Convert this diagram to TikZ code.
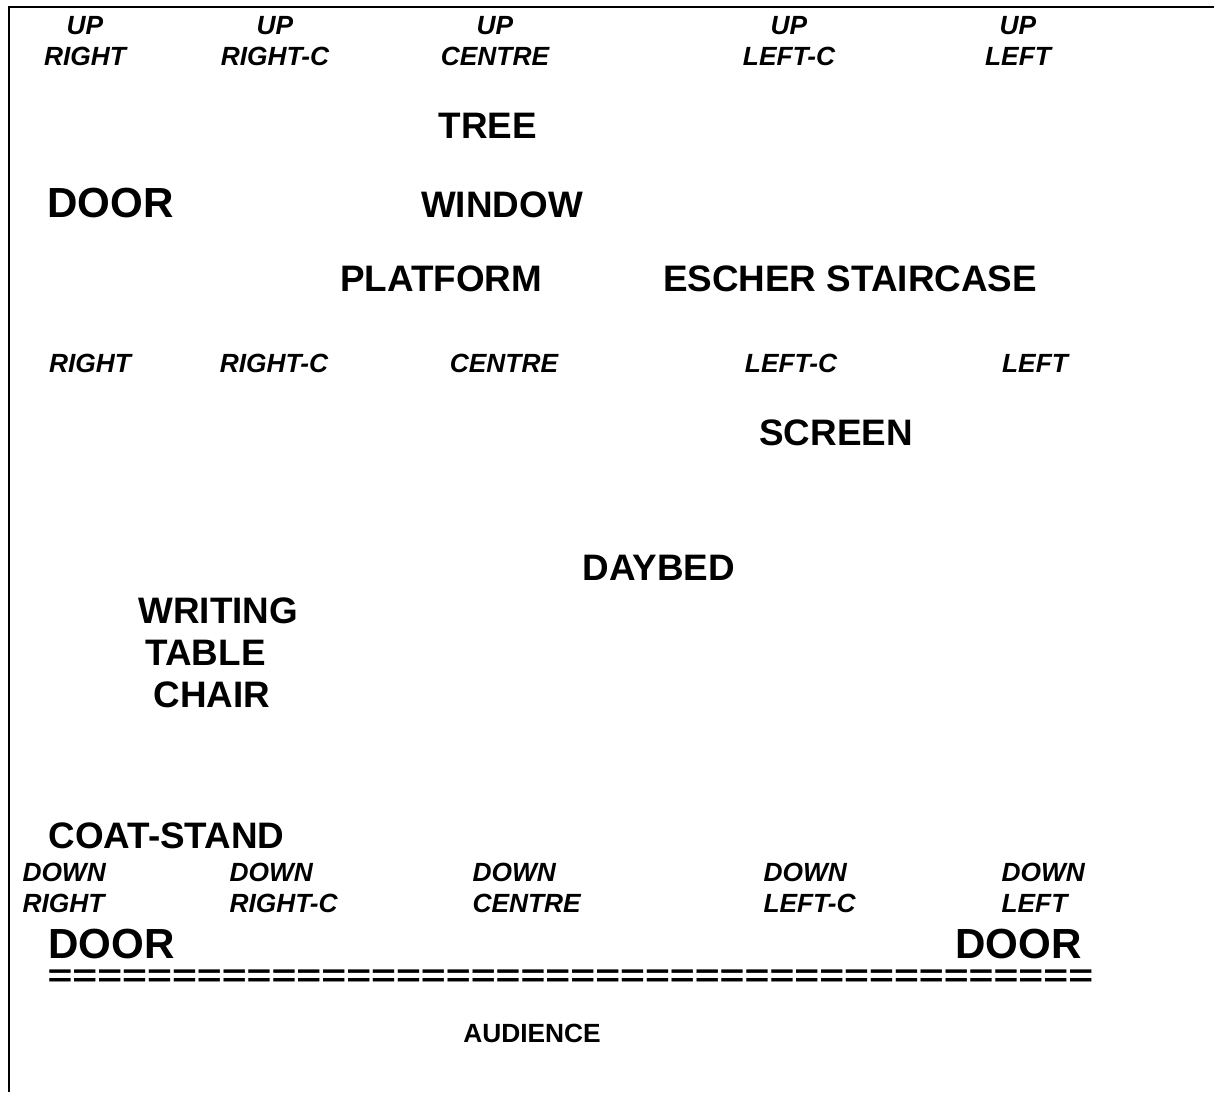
\documentclass[tikz,border=0pt]{standalone}
\usepackage{fontspec}
\setmainfont{Liberation Sans}
\usepackage{tikz}

\begin{document}
\begin{tikzpicture}[
  x=0.38pt, y=-0.38pt,
  spot/.style    = {inner sep=0pt, font=\fontsize{10}{11.5}\selectfont\bfseries\itshape},
  setpiece/.style = {inner sep=0pt, anchor=base, font=\fontsize{14}{16}\selectfont\bfseries},
  doorlbl/.style  = {inner sep=0pt, anchor=base west, font=\fontsize{16}{18}\selectfont\bfseries},
  frame/.style    = {line width=1.1pt}
]
\useasboundingbox (0,0) rectangle (1214,1092);
\coordinate (tl) at (9,7);
\coordinate (tr) at (1214,7);
\coordinate (bl) at (9,1092);
\draw[frame] (tr) -- (tl) -- (bl);

% upstage
\node[spot, align=center, anchor=base] (ur)  at (85,65)   {UP\\RIGHT};
\node[spot, align=center, anchor=base] (urc) at (275,65)  {UP\\RIGHT-C};
\node[spot, align=center, anchor=base] (uc)  at (495,65)  {UP\\CENTRE};
\node[spot, align=center, anchor=base] (ulc) at (789,65)  {UP\\LEFT-C};
\node[spot, align=center, anchor=base] (ul)  at (1018,65) {UP\\LEFT};

\node[setpiece] (tree)     at (488,138) {TREE};
\node[doorlbl]  (updoor)   at (47,217)  {DOOR};
\node[setpiece] (window)   at (502,217) {WINDOW};
\node[setpiece] (platform) at (441,291) {PLATFORM};
\node[setpiece] (escher)   at (850,291) {ESCHER STAIRCASE};

% centre stage
\node[spot, anchor=base] (r)  at (90,372)   {RIGHT};
\node[spot, anchor=base] (rc) at (274,372)  {RIGHT-C};
\node[spot, anchor=base] (c)  at (504,372)  {CENTRE};
\node[spot, anchor=base] (lc) at (791,372)  {LEFT-C};
\node[spot, anchor=base] (l)  at (1035,372) {LEFT};

\node[setpiece] (screen) at (836,445) {SCREEN};
\node[setpiece] (daybed) at (659,580) {DAYBED};
\node[setpiece, anchor=base west] (writing)   at (138,623) {WRITING};
\node[setpiece, anchor=base west] (table)     at (145,665) {TABLE};
\node[setpiece, anchor=base west] (chair)     at (153,707) {CHAIR};
\node[setpiece, anchor=base west] (coatstand) at (48,848)  {COAT-STAND};

% downstage
\node[spot, align=left, anchor=base west] (dr)  at (22,912)  {DOWN\\RIGHT};
\node[spot, align=left, anchor=base west] (drc) at (229,912) {DOWN\\RIGHT-C};
\node[spot, align=left, anchor=base west] (dc)  at (472,912) {DOWN\\CENTRE};
\node[spot, align=left, anchor=base west] (dlc) at (763,912) {DOWN\\LEFT-C};
\node[spot, align=left, anchor=base west] (dl)  at (1001,912) {DOWN\\LEFT};

\node[doorlbl] (drdoor) at (48,958)  {DOOR};
\node[doorlbl] (dldoor) at (955,958) {DOOR};
\node[doorlbl, font=\fontsize{16.2}{18}\selectfont\bfseries] (edge) at (47,986)
  {\scalebox{1}[0.75]{==========================================}};
\node[inner sep=0pt, anchor=base, font=\fontsize{10}{12}\selectfont\bfseries]
  (audience) at (532,1042) {AUDIENCE};
\end{tikzpicture}
\end{document}
